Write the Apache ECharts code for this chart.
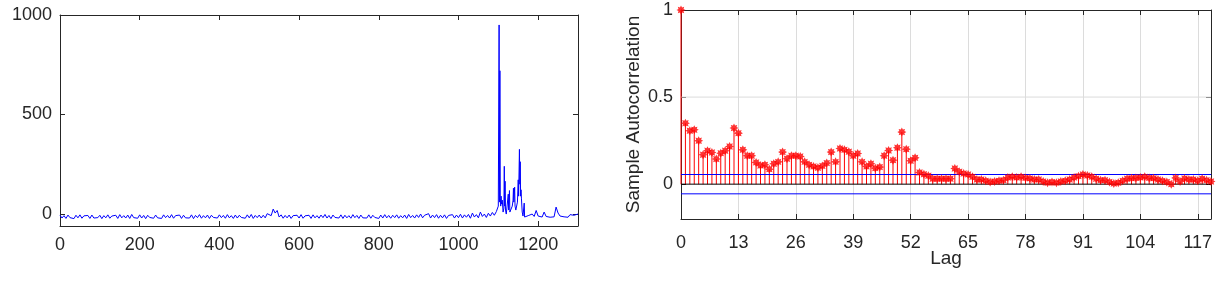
<!DOCTYPE html>
<html>
<head>
<meta charset="utf-8">
<script src="https://cdn.jsdelivr.net/npm/echarts@6/dist/echarts.min.js"></script>
<style>
html,body{margin:0;padding:0;background:#fff;}
#chart{width:1219px;height:287px;}
</style>
</head>
<body>
<div id="chart"></div>
<script>
// ---- Left panel: time series (sampled every 5 units, 0..1095) ----
const seriesHeadStep5 = [
  -6,-20,-8,-22,-5,-18,-10,-23,-6,-19,
  -4,-21,-9,-17,-7,-22,-5,-20,-11,-18,
  -6,-23,-8,-19,-4,-21,-10,-17,-6,-22,
  -3,-19,-8,-20,-5,-22,-2,-18,-9,-21,
  -4,-20,-7,-23,-6,-17,-8,-21,-5,-19,
  -9,-22,-4,-18,-7,-20,-3,-21,-8,-17,
  -5,-22,-6,-19,-10,-20,-4,-23,-7,-18,
  -3,-21,-8,-19,-5,-22,-6,-17,-9,-20,
  -4,-18,-7,-21,-3,-19,-8,-22,-5,-20,
  -6,-17,-9,-21,-4,-19,-2,-22,-7,-18,
  -5,-20,-6,-19,2,12,-8,25,5,18,
  -15,-4,-21,-7,-19,-5,-22,-8,-18,-6,
  -20,-3,-21,-9,-17,-6,-22,-4,-19,-8,
  -21,-5,-18,-2,-20,-7,-23,-5,-17,-9,
  -20,-4,-22,-6,-19,-8,-21,-3,-18,-7,
  -22,-5,-19,-9,-20,-4,-21,-6,-17,-8,
  -22,-5,-20,-3,-19,-7,-21,-6,-18,-4,
  -21,-8,-19,-5,-22,-2,-18,-7,-20,-4,
  -17,0,-19,-6,-16,2,-20,-5,-18,-3,
  -21,-6,-19,-4,-22,-7,-17,-3,-20,-5,
  -18,-1,-20,-4,-16,-2,-21,5,-15,-3,
  -19,10,-12,0,-17,4,-10,8,-6,12
];
// burst region, read point by point
const burstX = [1098,1100,1101,1102,1103,1104,1105,1106,1107,1108,1110,1112,1114,1115,1116,1117,1118,1120,1122,1124,1125,1126,1128,1129,1131,1133,1135,1137,1138,1139,1141,1142,1144,1146,1148,1150,1151,1153,1154,1155,1156,1157,1158,1160,1162,1164,1165,1166,1168,1170];
const burstY = [5,40,30,950,60,720,80,40,90,50,70,10,30,240,40,165,20,0,10,0,100,20,118,10,20,5,40,70,130,60,135,40,20,15,60,172,90,325,150,263,90,122,80,10,-10,-5,55,-15,-10,-20];
// tail, sampled every 5 units, 1175..1300
const seriesTailStep5 = [-8,-14,0,-12,18,-10,-2,-15,10,-12,-4,-16,-6,-14,35,5,-10,0,-14,-5,-16,-3,-12,-6,-10,0];

const leftXTicks = 200;
const leftYLabels = [0, 500, 1000];

// ---- Right panel: sample autocorrelation, lags 0..120 ----
const acfValues = [
  1,0.35,0.307,0.312,0.249,0.169,0.192,0.182,0.144,0.178,
  0.192,0.216,0.322,0.293,0.197,0.163,0.163,0.125,0.107,0.111,
  0.086,0.117,0.128,0.184,0.146,0.163,0.163,0.159,0.128,0.111,
  0.102,0.094,0.105,0.121,0.184,0.128,0.205,0.197,0.186,0.163,
  0.176,0.128,0.102,0.117,0.092,0.098,0.163,0.193,0.138,0.209,
  0.299,0.201,0.134,0.151,0.067,0.057,0.048,0.031,0.031,0.031,
  0.031,0.031,0.09,0.071,0.061,0.056,0.042,0.027,0.027,0.019,
  0.013,0.015,0.019,0.023,0.038,0.042,0.038,0.042,0.036,0.033,
  0.027,0.027,0.015,0.008,0.013,0.008,0.015,0.019,0.027,0.038,
  0.046,0.056,0.050,0.042,0.031,0.023,0.023,0.013,0.004,0.008,
  0.019,0.031,0.034,0.036,0.038,0.042,0.036,0.034,0.027,0.019,
  0.013,0.0,0.036,0.015,0.033,0.027,0.027,0.019,0.031,0.023,
  0.015
];
const confBound = 0.0555;
const acfYLabels = [0, 0.5, 1];
const lagTickStep = 13;

// build data
const tsData = [];
seriesHeadStep5.forEach((v, i) => tsData.push([i * 5, v]));
burstX.forEach((x, i) => tsData.push([x, burstY[i]]));
seriesTailStep5.forEach((v, i) => tsData.push([1175 + i * 5, v]));
const acfData = acfValues.map((v, i) => [i, v]);
const maxLag = acfValues.length - 1;

const FONT = 'Liberation Sans';
const TXT = '#262626';
const tick = {show: true, inside: true, length: 5, lineStyle: {color: TXT, width: 1}};
const line = {show: true, onZero: false, lineStyle: {color: TXT, width: 1}};
const plain = (v) => String(v);
const lbl = (extra) => Object.assign({color: TXT, fontFamily: FONT, fontSize: 18, formatter: plain}, extra || {});

const starPath = 'path://M8,4L6.22,4.92L6.83,6.83L4.92,6.22L4,8L3.08,6.22L1.17,6.83L1.78,4.92L0,4L1.78,3.08L1.17,1.17L3.08,1.78L4,0L4.92,1.78L6.83,1.17L6.22,3.08Z';

const chart = echarts.init(document.getElementById('chart'), null, {renderer: 'canvas'});
chart.setOption({
  animation: false,
  backgroundColor: '#fff',
  grid: [
    {left: 60, right: 641, top: 15, bottom: 61},
    {left: 681, right: 8, top: 10, bottom: 68}
  ],
  xAxis: [
    {gridIndex: 0, type: 'value', min: 0, max: 1300, interval: leftXTicks, position: 'bottom',
      axisLine: line, axisTick: tick, splitLine: {show: false},
      axisLabel: lbl({margin: 10, showMaxLabel: false})},
    {gridIndex: 0, type: 'value', min: 0, max: 1300, interval: leftXTicks, position: 'top',
      axisLine: line, axisTick: tick, splitLine: {show: false}, axisLabel: {show: false}},
    {gridIndex: 1, type: 'value', min: 0, max: maxLag, interval: lagTickStep, position: 'bottom',
      name: 'Lag', nameLocation: 'middle', nameGap: 30, nameMoveOverlap: false,
      nameTextStyle: {color: TXT, fontFamily: FONT, fontSize: 19},
      axisLine: line, axisTick: tick,
      splitLine: {show: true, lineStyle: {color: '#dcdcdc', width: 1}},
      axisLabel: lbl({margin: 15, showMaxLabel: false})},
    {gridIndex: 1, type: 'value', min: 0, max: maxLag, interval: lagTickStep, position: 'top',
      axisLine: line, axisTick: tick, splitLine: {show: false}, axisLabel: {show: false}}
  ],
  yAxis: [
    {gridIndex: 0, type: 'value', min: -60, max: 1000, position: 'left',
      axisLine: line, axisTick: Object.assign({customValues: leftYLabels}, tick), splitLine: {show: false},
      axisLabel: lbl({margin: 8, customValues: leftYLabels})},
    {gridIndex: 0, type: 'value', min: -60, max: 1000, position: 'right',
      axisLine: line, axisTick: Object.assign({customValues: leftYLabels}, tick), splitLine: {show: false},
      axisLabel: {show: false}},
    {gridIndex: 1, type: 'value', min: -0.2, max: 1, position: 'left',
      name: 'Sample Autocorrelation', nameLocation: 'middle', nameGap: 38, nameMoveOverlap: false,
      nameTextStyle: {color: TXT, fontFamily: FONT, fontSize: 19},
      axisLine: line, axisTick: Object.assign({customValues: acfYLabels}, tick), splitLine: {show: false},
      axisLabel: lbl({margin: 8, customValues: acfYLabels})},
    {gridIndex: 1, type: 'value', min: -0.2, max: 1, position: 'right',
      axisLine: line, axisTick: Object.assign({customValues: acfYLabels}, tick), splitLine: {show: false},
      axisLabel: {show: false}}
  ],
  series: [
    {type: 'line', xAxisIndex: 0, yAxisIndex: 0, data: tsData, showSymbol: false, symbol: 'none',
      lineStyle: {color: '#0000ff', width: 1}, z: 3},
    // gridline at 0.5 on the ACF panel
    {type: 'line', xAxisIndex: 2, yAxisIndex: 2, data: [[0, 0.5], [maxLag, 0.5]], symbol: 'none',
      lineStyle: {color: '#dcdcdc', width: 1}, z: 1, silent: true},
    {type: 'bar', xAxisIndex: 2, yAxisIndex: 2, data: acfData, barWidth: 1,
      itemStyle: {color: '#ff0000'}, z: 3},
    {type: 'line', xAxisIndex: 2, yAxisIndex: 2, data: [[0, 0], [maxLag, 0]], symbol: 'none',
      lineStyle: {color: '#000000', width: 1}, z: 4},
    {type: 'line', xAxisIndex: 2, yAxisIndex: 2, data: [[0, confBound], [maxLag, confBound]], symbol: 'none',
      lineStyle: {color: '#0000ff', width: 1}, z: 5},
    {type: 'line', xAxisIndex: 2, yAxisIndex: 2, data: [[0, -confBound], [maxLag, -confBound]], symbol: 'none',
      lineStyle: {color: '#0000ff', width: 1}, z: 5},
    {type: 'scatter', xAxisIndex: 2, yAxisIndex: 2, data: acfData, symbol: starPath, symbolSize: 9,
      itemStyle: {color: '#ff0000'}, z: 6}
  ]
});
</script>
</body>
</html>
